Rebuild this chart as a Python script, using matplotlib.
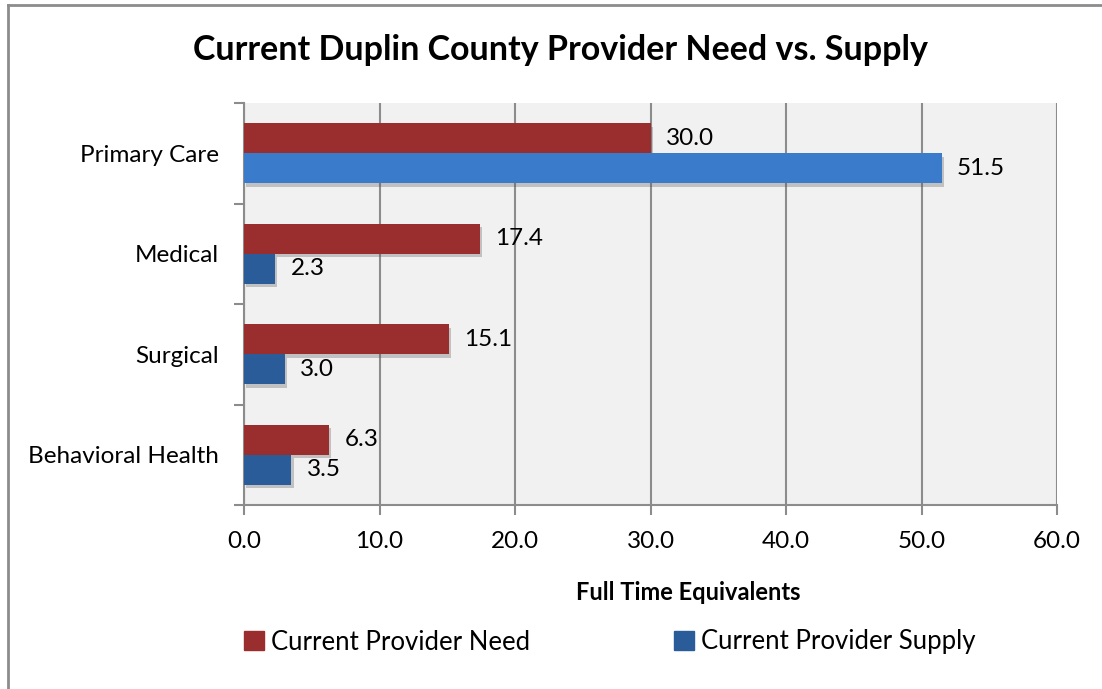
import numpy as np
import matplotlib.pyplot as plt
import matplotlib.patheffects as pe
from matplotlib.lines import Line2D
from matplotlib.patches import Patch

# data
categories = ['Primary Care', 'Medical', 'Surgical', 'Behavioral Health']
need = [30.0, 17.4, 15.1, 6.3]
supply = [51.5, 2.3, 3.0, 3.5]
xticks = [0, 10, 20, 30, 40, 50, 60]

need_color = '#9A2D2D'
supply_color = '#2B5C9A'
highlight_color = '#3A7CCB'
supply_colors = [highlight_color, supply_color, supply_color, supply_color]

plt.rcParams['font.family'] = ['Lato', 'DejaVu Sans']

fig = plt.figure(figsize=(11.02, 6.89), dpi=100)
W, H = 1102, 689
ax = fig.add_axes([244 / W, 1 - 505 / H, (1057 - 244) / W, (505 - 103) / H])
ax.set_facecolor('#F1F1F1')

y = np.arange(len(categories))
h = 0.3
shadow = [pe.SimplePatchShadow(offset=(1.5, -2.5), shadow_rgbFace='#555555', alpha=0.3), pe.Normal()]

need_bars = ax.barh(y - h / 2, need, height=h, color=need_color, zorder=3)
supply_bars = ax.barh(y + h / 2, supply, height=h, color=supply_colors, zorder=3)
for b in list(need_bars) + list(supply_bars):
    b.set_path_effects(shadow)

for i in range(len(categories)):
    ax.annotate(f'{need[i]:.1f}', (need[i], y[i] - h / 2), xytext=(11, 0),
                textcoords='offset points', va='center', ha='left', fontsize=17.5)
    ax.annotate(f'{supply[i]:.1f}', (supply[i], y[i] + h / 2), xytext=(11, 0),
                textcoords='offset points', va='center', ha='left', fontsize=17.5)

ax.set_ylim(len(categories) - 0.5, -0.5)
ax.set_xlim(0, 60)
ax.set_xticks(xticks)
ax.set_xticklabels([f'{v:.1f}' for v in xticks], fontsize=17.5)
ax.set_yticks(y)
ax.set_yticklabels(categories, fontsize=17.5)
ax.tick_params(axis='y', length=0, pad=18)
ax.tick_params(axis='x', length=7, width=1.5, color='#8C8C8C', pad=12)
# category boundary ticks on the left
ax.set_yticks(np.arange(-0.5, len(categories), 1), minor=True)
ax.tick_params(axis='y', which='minor', length=7, width=1.5, color='#8C8C8C')

ax.grid(axis='x', color='#8C8C8C', linewidth=1.5, zorder=0)
ax.set_axisbelow(True)
for s in ['top', 'right']:
    ax.spines[s].set_visible(False)
for s in ['left', 'bottom']:
    ax.spines[s].set_color('#8C8C8C')
    ax.spines[s].set_linewidth(1.5)

fig.text(560 / W, 1 - 50 / H, 'Current Duplin County Provider Need vs. Supply',
         ha='center', va='center', fontsize=24.5, fontweight='bold')
fig.text(688 / W, 1 - 592 / H, 'Full Time Equivalents', ha='center', va='center',
         fontsize=17, fontweight='bold')

handles = [Patch(color=need_color), Patch(color=supply_color)]
fig.legend(handles, ['Current Provider Need', 'Current Provider Supply'],
           loc='center', bbox_to_anchor=(610 / W, 1 - 642 / H), ncol=2, frameon=False,
           fontsize=18.5, handlelength=0.75, handleheight=0.75, handletextpad=0.3,
           columnspacing=5.6)

# outer border (top and left visible)
fig.add_artist(Line2D([8 / W, 1], [1 - 5 / H, 1 - 5 / H], color='#8C8C8C', lw=2))
fig.add_artist(Line2D([8 / W, 8 / W], [0, 1 - 5 / H], color='#8C8C8C', lw=2))

plt.savefig('out.png', dpi=100)
